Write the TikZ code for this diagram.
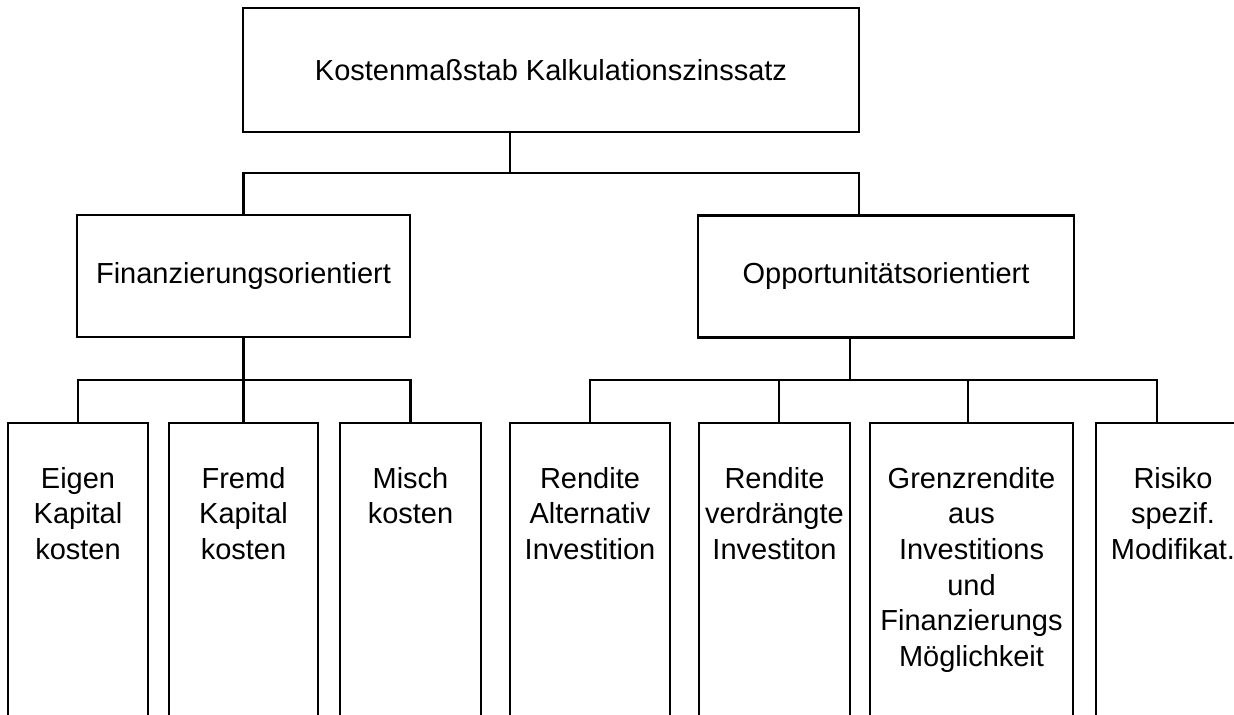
\documentclass[tikz,border=0pt]{standalone}
\usepackage{fontspec}
\setmainfont{Liberation Sans}
\usetikzlibrary{positioning}

\begin{document}
\begin{tikzpicture}[x=0.02cm, y=-0.02cm, line width=1.4pt,
  box/.style={draw, inner sep=0pt, font=\fontsize{16.5}{20.3}\selectfont},
  leaf/.style={draw, anchor=north, inner sep=0pt, minimum height=7cm},
  leaftext/.style={anchor=north, align=center, inner sep=0pt, font=\fontsize{16.5}{20.3}\selectfont}]
  \useasboundingbox (0,0) rectangle (1234,715);
  \clip (0,0) rectangle (1234,715);

  \node[box, minimum width=12.32cm, minimum height=2.48cm] (top) at (551,70) {Kostenmaßstab Kalkulationszinssatz};
  \node[box, minimum width=6.66cm, minimum height=2.44cm] (fin) at (243.5,276) {Finanzierungsorientiert};
  \node[box, minimum width=7.52cm, minimum height=2.44cm] (opp) at (886,276.5) {Opportunitätsorientiert};

  \node[leaf, minimum width=2.8cm] (ek) at (78,422) {};
  \node[leaf, minimum width=2.98cm] (fk) at (243.5,422) {};
  \node[leaf, minimum width=2.82cm] (mk) at (410.5,422) {};
  \node[leaf, minimum width=3.2cm] (ra) at (590,422) {};
  \node[leaf, minimum width=3.02cm] (rv) at (774.5,422) {};
  \node[leaf, minimum width=4.06cm] (gr) at (971.5,422) {};
  \node[leaf, minimum width=3.08cm] (ri) at (1173,422) {};

  \node[leaftext, below=0.88cm of ek.north] (ek-t) {Eigen\\Kapital\\kosten};
  \node[leaftext, below=0.88cm of fk.north] (fk-t) {Fremd\\Kapital\\kosten};
  \node[leaftext, below=0.88cm of mk.north] (mk-t) {Misch\\kosten};
  \node[leaftext, below=0.88cm of ra.north] (ra-t) {Rendite\\Alternativ\\Investition};
  \node[leaftext, below=0.88cm of rv.north] (rv-t) {Rendite\\verdrängte\\Investiton};
  \node[leaftext, below=0.88cm of gr.north] (gr-t) {Grenzrendite\\aus\\Investitions\\und\\Finanzierungs\\Möglichkeit};
  \node[leaftext, below=0.88cm of ri.north] (ri-t) {Risiko\\spezif.\\Modifikat.};

  \coordinate (j0) at (510,173);
  \coordinate (oppin) at (859,215);
  \draw (top.south -| j0) -- (j0);
  \draw (fin.north) |- (j0) -| (oppin);

  \coordinate (j1) at (243.5,380);
  \draw (fin.south) -- (j1);
  \draw (ek.north) |- (j1) -| (mk.north);
  \draw (fk.north) -- (j1);

  \coordinate (j2) at (850,380);
  \coordinate (rvin) at (779,422);
  \coordinate (grin) at (968,422);
  \coordinate (riin) at (1157,422);
  \draw (opp.south -| j2) -- (j2);
  \draw (ra.north) |- (j2) -| (riin);
  \draw (rvin) -- (rvin |- j2);
  \draw (grin) -- (grin |- j2);
\end{tikzpicture}
\end{document}
